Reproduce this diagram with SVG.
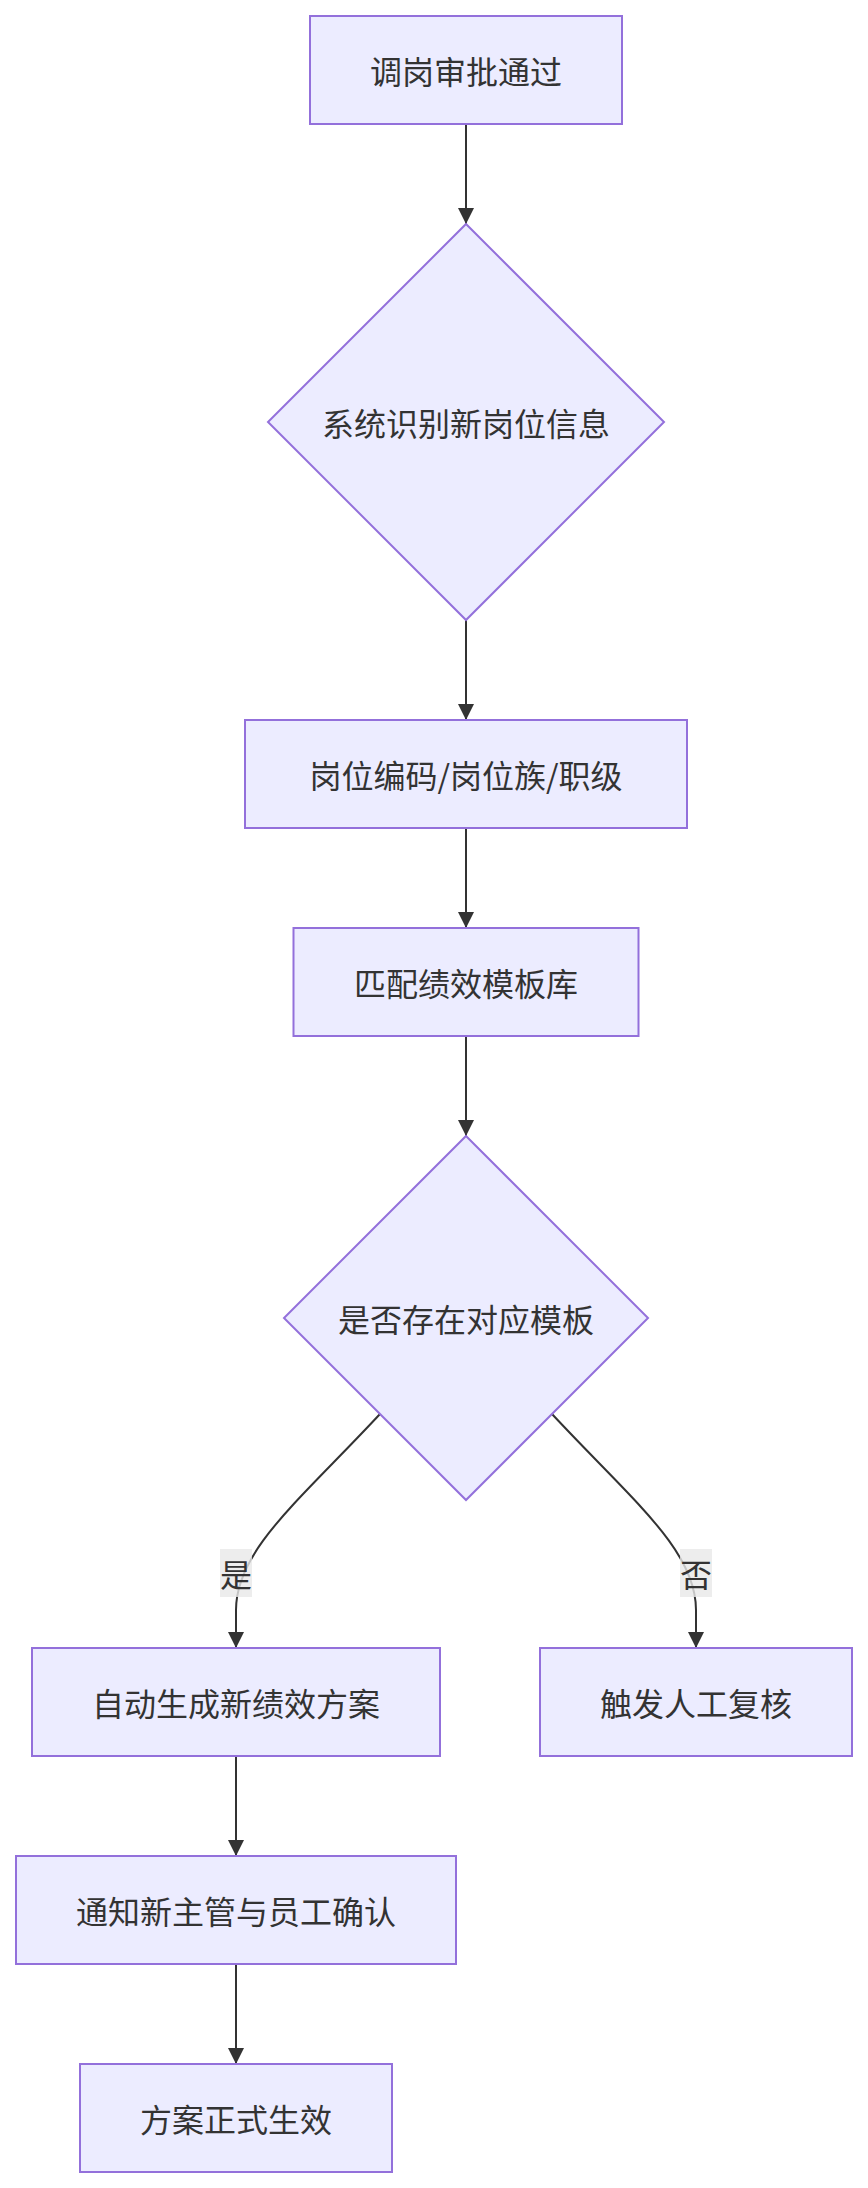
<svg xmlns="http://www.w3.org/2000/svg" width="868" height="2188" viewBox="0 0 868 2188">
<defs>
<style>
.node rect,.node polygon{fill:#ECECFF;stroke:#9370DB;stroke-width:2}
.node text,.lbl text{font-family:"Noto Sans CJK SC","Liberation Sans",sans-serif;font-size:32px;fill:#333;text-anchor:middle;dominant-baseline:central}
.edge{fill:none;stroke:#333;stroke-width:2}
.lbl rect{fill:#e8e8e8;opacity:0.8}
</style>
<marker id="arrow" viewBox="0 0 10 10" refX="10" refY="5" markerUnits="userSpaceOnUse" markerWidth="16" markerHeight="16" orient="auto">
<path d="M0,0 L10,5 L0,10 z" fill="#333"/>
</marker>
</defs>
<rect width="868" height="2188" fill="#fff"/>
<g id="connectors">
<path class="edge" d="M466,124 L466,224" marker-end="url(#arrow)"/>
<path class="edge" d="M466,620 L466,720" marker-end="url(#arrow)"/>
<path class="edge" d="M466,828 L466,928" marker-end="url(#arrow)"/>
<path class="edge" d="M466,1036 L466,1136" marker-end="url(#arrow)"/>
<path class="edge" d="M380,1414 C300,1500 236,1550 236,1610 L236,1648" marker-end="url(#arrow)"/>
<path class="edge" d="M552,1414 C632,1500 696,1550 696,1610 L696,1648" marker-end="url(#arrow)"/>
<path class="edge" d="M236,1756 L236,1856" marker-end="url(#arrow)"/>
<path class="edge" d="M236,1964 L236,2064" marker-end="url(#arrow)"/>
<g class="lbl" id="label-yes"><rect x="220" y="1549" width="32" height="48"/><text x="236" y="1573">是</text></g>
<g class="lbl" id="label-no"><rect x="680" y="1549" width="32" height="48"/><text x="696" y="1573">否</text></g>
</g>
<g class="node" id="n1"><rect x="310" y="16" width="312" height="108"/><text x="466" y="70">调岗审批通过</text></g>
<g class="node" id="n2"><polygon points="466,224 664,422 466,620 268,422"/><text x="466" y="422">系统识别新岗位信息</text></g>
<g class="node" id="n3"><rect x="245" y="720" width="442" height="108"/><text x="466" y="774">岗位编码/岗位族/职级</text></g>
<g class="node" id="n4"><rect x="293.5" y="928" width="345" height="108"/><text x="466" y="982">匹配绩效模板库</text></g>
<g class="node" id="n5"><polygon points="466,1136 648,1318 466,1500 284,1318"/><text x="466" y="1318">是否存在对应模板</text></g>
<g class="node" id="n6"><rect x="32" y="1648" width="408" height="108"/><text x="236" y="1702">自动生成新绩效方案</text></g>
<g class="node" id="n7"><rect x="540" y="1648" width="312" height="108"/><text x="696" y="1702">触发人工复核</text></g>
<g class="node" id="n8"><rect x="16" y="1856" width="440" height="108"/><text x="236" y="1910">通知新主管与员工确认</text></g>
<g class="node" id="n9"><rect x="80" y="2064" width="312" height="108"/><text x="236" y="2118">方案正式生效</text></g>
</svg>
